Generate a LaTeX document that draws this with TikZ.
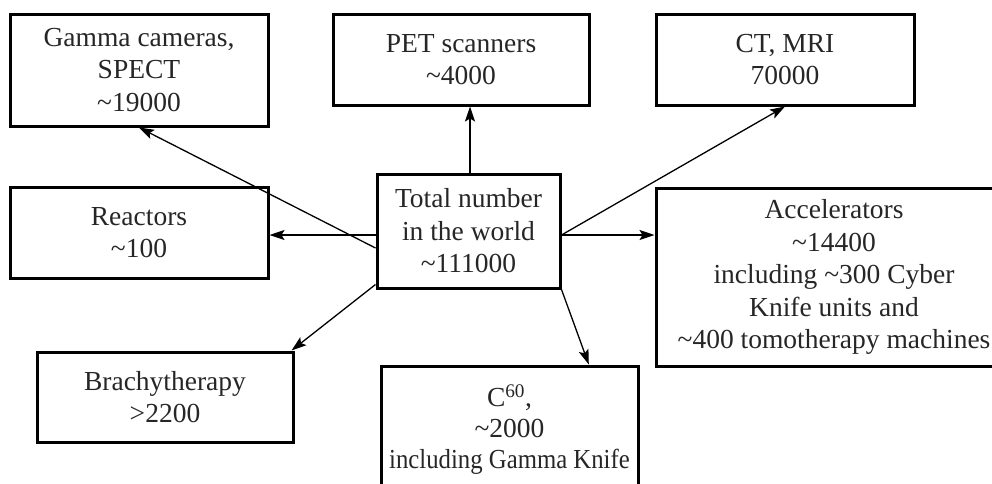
\documentclass[tikz,border=0pt]{standalone}
\usepackage{fontspec}
\usepackage{graphicx}
\setmainfont{Liberation Serif}
\usetikzlibrary{arrows.meta,calc}
\begin{document}
\begin{tikzpicture}[x=1pt,y=-1pt,
  box/.style={draw, line width=3pt, inner sep=0pt, align=center,
    font=\fontsize{27.5}{32.5}\selectfont, text=black!85},
  conn/.style={line width=1.3pt, -{Stealth[length=15pt,width=10pt,inset=3pt]}}]
\useasboundingbox (0,0) rectangle (992,483);
\clip (0,0) rectangle (992,483);
\node[box, minimum width=258pt, minimum height=112pt] (gamma) at (139,70)
  {Gamma cameras,\\SPECT\\\textasciitilde 19000};
\node[box, minimum width=256pt, minimum height=91pt] (pet) at (461,59.5)
  {PET scanners\\\textasciitilde 4000};
\node[box, minimum width=258pt, minimum height=91pt] (ct) at (785,59.5)
  {CT, MRI\\70000};
\node[box, minimum width=258pt, minimum height=91pt] (reactors) at (139,232.5)
  {Reactors\\\textasciitilde 100};
\node[box, minimum width=183pt, minimum height=114pt] (total) at (468.5,231)
  {Total number\\in the world\\\textasciitilde 111000};
\node[box, minimum width=356pt, minimum height=178pt] (acc) at (834,277)
  {Accelerators\\\textasciitilde 14400\\including \textasciitilde 300 Cyber\\Knife units and\\\textasciitilde 400 tomotherapy machines};
\node[box, minimum width=256pt, minimum height=90pt] (brachy) at (165,397)
  {Brachytherapy\\>2200};
\node[box, minimum width=257pt, minimum height=128pt, font=\fontsize{27.5}{31}\selectfont] (c60) at (509.5,430)
  {C\textsuperscript{60},\\\textasciitilde 2000\\\scalebox{0.9}[1]{including Gamma Knife}};
\coordinate (tw) at ($(total.west)+(0,4)$);
\coordinate (te) at ($(total.east)+(0,4)$);
\coordinate (tn) at ($(total.north)+(1.5,0)$);
\coordinate (tg) at ($(total.west)+(0,17)$);
\coordinate (tb) at ($(total.south west)+(0,-5)$);
\draw[conn] (tg) -- (gamma.south);
\draw[conn] (tn) -- (tn |- pet.south);
\draw[conn] (tw) -- (tw -| reactors.east);
\draw[conn] (te) -- (ct.south);
\draw[conn] (te) -- (te -| acc.west);
\draw[conn] (tb) -- ($(brachy.north east)+(-3,0)$);
\draw[conn] (total.south east) -- ($(c60.north west)!0.805!(c60.north east)$);
\end{tikzpicture}
\end{document}
